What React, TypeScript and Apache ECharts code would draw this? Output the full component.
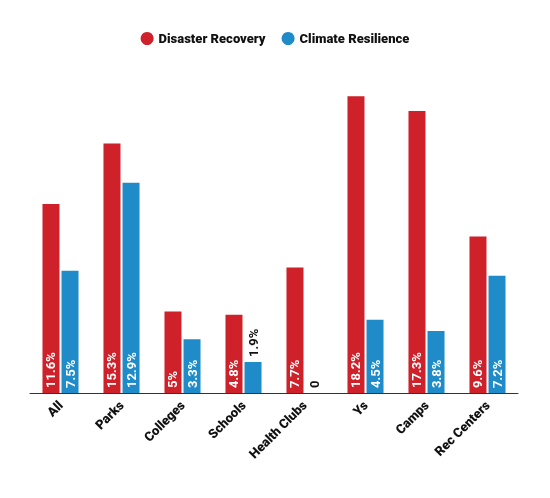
import React, { useEffect, useRef } from "react";
import * as echarts from "echarts";

const categories = ["All", "Parks", "Colleges", "Schools", "Health Clubs", "Ys", "Camps", "Rec Centers"];
const disasterRecovery = [11.6, 15.3, 5, 4.8, 7.7, 18.2, 17.3, 9.6];
const climateResilience = [7.5, 12.9, 3.3, 1.9, 0, 4.5, 3.8, 7.2];
const seriesNames = ["Disaster Recovery", "Climate Resilience"];
const colors = ["#ce2129", "#1f8bc8"];

const fmt = (v: number) => (v === 0 ? "0" : `${v}%`);

function makeData(values: number[]) {
  return values.map((v) => {
    if (v < 2.5) {
      return {
        value: v,
        label: {
          position: "top",
          color: "#111",
          distance: 5,
        },
      };
    }
    return { value: v };
  });
}

export default function App() {
  const ref = useRef<HTMLDivElement>(null);
  useEffect(() => {
    if (!ref.current) return;
    const chart = echarts.init(ref.current, undefined, { renderer: "svg" });
    const labelBase = {
      show: true,
      position: "insideBottom",
      rotate: 90,
      align: "left",
      verticalAlign: "middle",
      distance: 5,
      color: "#fff",
      fontWeight: "bold",
      fontSize: 13,
      fontFamily: "Roboto",
      formatter: (p: any) => fmt(p.value),
    };
    chart.setOption({
      animation: false,
      textStyle: { fontFamily: "Roboto" },
      legend: {
        top: 27,
        left: "center",
        icon: "circle",
        itemWidth: 13,
        itemHeight: 13,
        itemGap: 16,
        textStyle: { fontWeight: 900, fontSize: 13, color: "#111", fontFamily: "Roboto" },
        data: seriesNames,
      },
      grid: { left: 30, right: 32, top: 67, bottom: 105, containLabel: false },
      xAxis: {
        type: "category",
        data: categories,
        axisLine: { lineStyle: { color: "#333", width: 1 } },
        axisTick: { show: false },
        axisLabel: {
          rotate: 45,
          fontWeight: 900,
          fontSize: 13,
          color: "#111",
          fontFamily: "Roboto",
          margin: 10,
          interval: 0,
        },
      },
      yAxis: {
        type: "value",
        min: 0,
        max: 20,
        show: false,
        splitLine: { show: false },
      },
      series: [
        {
          name: seriesNames[0],
          type: "bar",
          data: makeData(disasterRecovery),
          itemStyle: { color: colors[0] },
          barWidth: 17,
          barGap: "12%",
          label: labelBase,
        },
        {
          name: seriesNames[1],
          type: "bar",
          data: makeData(climateResilience),
          itemStyle: { color: colors[1] },
          barWidth: 17,
          barGap: "12%",
          label: labelBase,
        },
      ],
    });
    return () => chart.dispose();
  }, []);
  return (
    <div
      ref={ref}
      style={{ position: "fixed", left: 0, top: 0, width: 550, height: 498 }}
    />
  );
}
